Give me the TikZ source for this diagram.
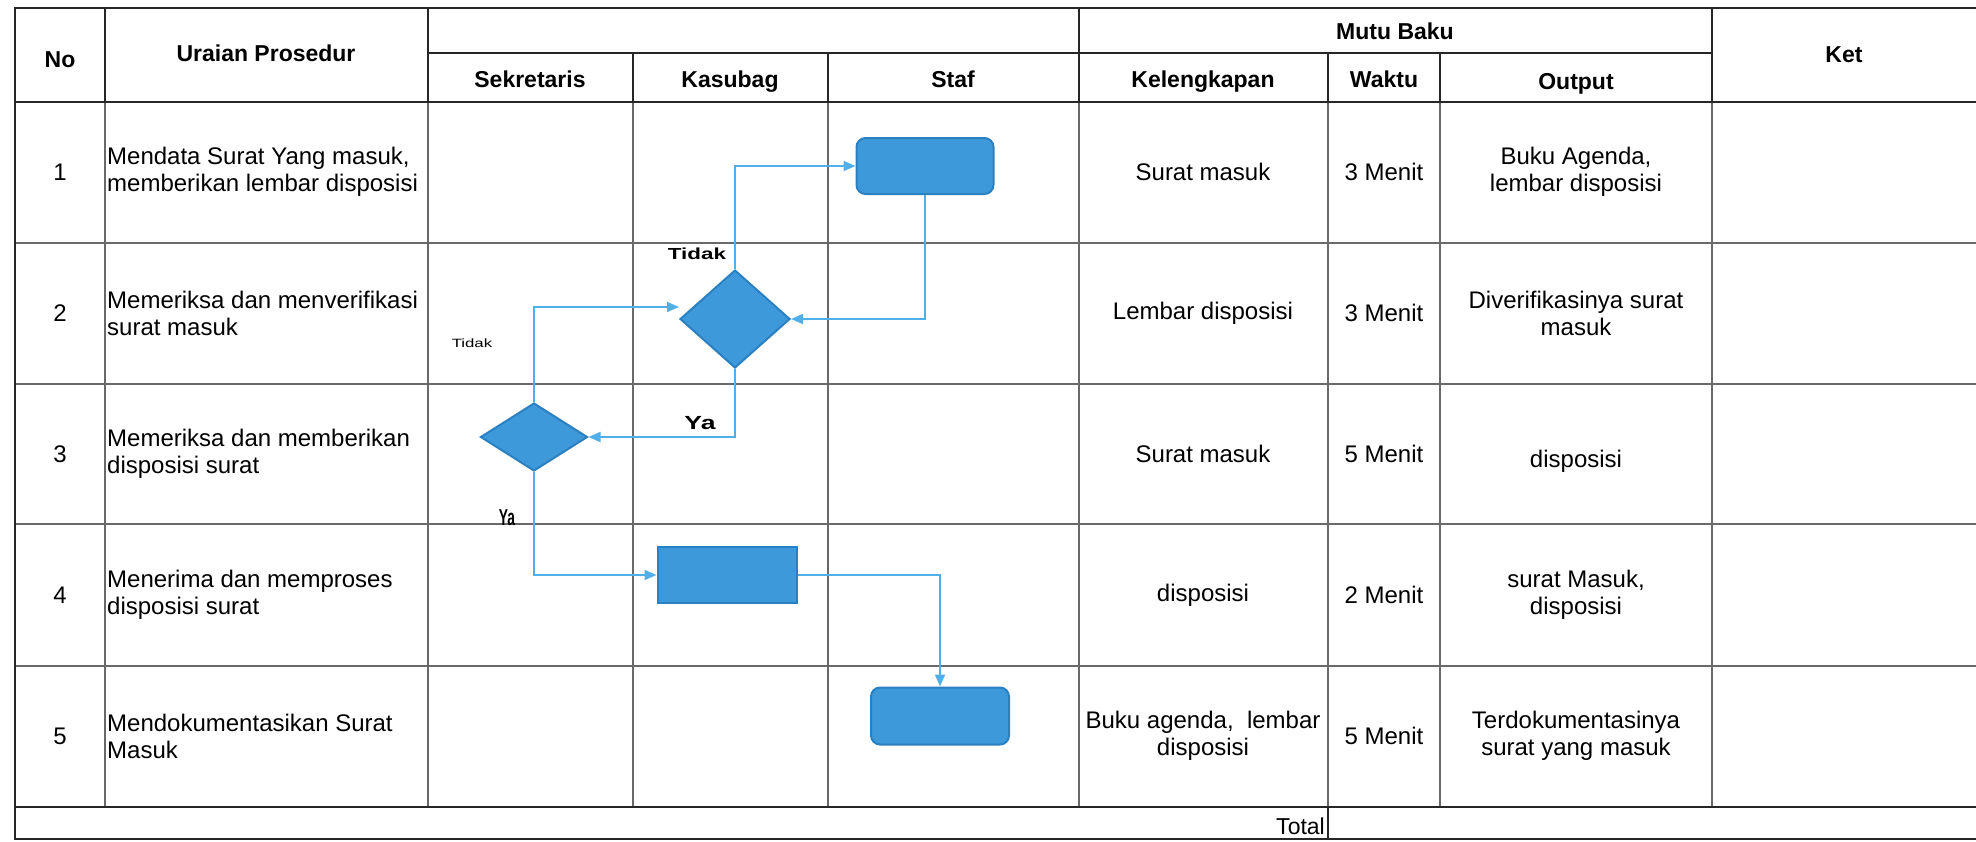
\documentclass[tikz,border=0pt]{standalone}
\usepackage{fontspec}
\setmainfont{Liberation Sans}
\newfontfamily\widefont[FakeStretch=1.4]{Liberation Sans}
\newfontfamily\condfont[FakeStretch=0.6]{Liberation Sans}
\usetikzlibrary{shapes.geometric,arrows.meta,positioning,calc}
\definecolor{shapeblue}{RGB}{62,153,218}
\definecolor{shapeedge}{RGB}{42,128,192}
\definecolor{flowblue}{RGB}{80,175,233}
\definecolor{gridgray}{RGB}{105,105,105}

\begin{document}
\begin{tikzpicture}[x=1pt, y=-1pt,
    thickline/.style={line width=2.6pt, draw=black!85},
    thinline/.style={line width=1.1pt, draw=gridgray},
    head/.style={font=\fontsize{23}{26}\selectfont\bfseries, inner sep=0pt, text height=17pt, text depth=5pt},
    cell/.style={font=\fontsize{24}{27}\selectfont, align=center, inner sep=0pt},
    prosedur/.style={font=\fontsize{24}{27}\selectfont, align=left, anchor=west, inner sep=0pt},
    flowlabel/.style={inner sep=0pt},
    process/.style={rectangle, draw=shapeedge, fill=shapeblue, line width=2pt, minimum width=139pt, minimum height=56pt},
    terminal/.style={process, rounded corners=9pt},
    decision/.style={diamond, draw=shapeedge, fill=shapeblue, line width=2pt, inner sep=0pt},
    arrow/.style={-{Triangle[length=12pt,width=10pt]}, line width=1.8pt, draw=flowblue}
]
    \useasboundingbox (0,0) rectangle (1976,841);

    \draw[thinline] (15,243) -- (1976,243) (15,384) -- (1976,384) (15,524) -- (1976,524) (15,666) -- (1976,666);
    \draw[thinline] (105,102) -- (105,807) (428,102) -- (428,807) (633,102) -- (633,807) (828,102) -- (828,807);
    \draw[thinline] (1079,102) -- (1079,807) (1328,102) -- (1328,807) (1440,102) -- (1440,807) (1712,102) -- (1712,807);

    \draw[thickline] (1976,8) -- (15,8) -- (15,839) -- (1976,839);
    \draw[thickline] (15,102) -- (1976,102) (428,53) -- (1712,53) (15,807) -- (1976,807);
    \draw[thickline] (105,8) -- (105,102) (428,8) -- (428,102) (1079,8) -- (1079,102) (1712,8) -- (1712,102);
    \draw[thickline] (633,53) -- (633,102) (828,53) -- (828,102) (1328,53) -- (1328,102) (1440,53) -- (1440,102);
    \draw[thickline] (1328,807) -- (1328,839);

    \node[head] (hno) at (60,61) {No};
    \node[head] (hur) at (266,55) {Uraian Prosedur};
    \node[head] (hsek) at (530,81) {Sekretaris};
    \node[head] (hkas) at (730,81) {Kasubag};
    \node[head] (hstaf) at (953,81) {Staf};
    \node[head] (hmutu) at (1395,33) {Mutu Baku};
    \node[head] (hkel) at (1203,81) {Kelengkapan};
    \node[head] (hwak) at (1384,81) {Waktu};
    \node[head] (hout) at (1576,83) {Output};
    \node[head] (hket) at (1844,56) {Ket};

    \node[cell] (no1) at (60,172) {1};
    \node[cell] (no2) at (60,313) {2};
    \node[cell] (no3) at (60,454) {3};
    \node[cell] (no4) at (60,595) {4};
    \node[cell] (no5) at (60,736) {5};

    \node[prosedur] (ur1) at (107,172) {Mendata Surat Yang masuk,\\memberikan lembar disposisi};
    \node[prosedur] (ur2) at (107,313) {Memeriksa dan menverifikasi\\surat masuk};
    \node[prosedur] (ur3) at (107,454) {Memeriksa dan memberikan\\disposisi surat};
    \node[prosedur] (ur4) at (107,595) {Menerima dan memproses\\disposisi surat};
    \node[prosedur] (ur5) at (107,736) {Mendokumentasikan Surat\\Masuk};

    \node[cell] (kel1) at (1203,172) {Surat masuk};
    \node[cell] (kel2) at (1203,313) {Lembar disposisi};
    \node[cell] (kel3) at (1203,454) {Surat masuk};
    \node[cell] (kel4) at (1203,595) {disposisi};
    \node[cell] (kel5) at (1203,736) {Buku agenda,~~lembar\\disposisi};

    \node[cell] (wak1) at (1384,172) {3 Menit};
    \node[cell] (wak2) at (1384,313) {3 Menit};
    \node[cell] (wak3) at (1384,454) {5 Menit};
    \node[cell] (wak4) at (1384,595) {2 Menit};
    \node[cell] (wak5) at (1384,736) {5 Menit};

    \node[cell] (out1) at (1576,172) {Buku Agenda,\\lembar disposisi};
    \node[cell] (out2) at (1576,313) {Diverifikasinya surat\\masuk};
    \node[cell] (out3) at (1576,461) {disposisi};
    \node[cell] (out4) at (1576,595) {surat Masuk,\\disposisi};
    \node[cell] (out5) at (1576,736) {Terdokumentasinya\\surat yang masuk};

    \node[cell, anchor=base east, font=\fontsize{23}{26}\selectfont] (total) at (1325,834) {Total};

    \node[terminal, minimum width=137pt] (staf1) at (925,166) {};
    \node[decision, minimum width=110pt, minimum height=98pt] (kas1) at (735,319) {};
    \node[decision, minimum width=107pt, minimum height=68pt] (sek1) at (534,437) {};
    \node[process] (kas2) at (727,575) {};
    \node[terminal, minimum width=138pt, minimum height=57pt] (staf2) at (940,716) {};

    \draw[arrow] (kas1.north) |- (staf1.west);
    \draw[arrow] (staf1.south) |- (kas1.east);
    \draw[arrow] (kas1.south) |- (sek1.east);
    \draw[arrow] (sek1.north) |- ([yshift=12pt]kas1.west);
    \draw[arrow] (sek1.south) |- (kas2.west);
    \draw[arrow] (kas2.east) -| (staf2.north);

    \node[flowlabel, font=\widefont\bfseries\fontsize{16}{18}\selectfont] (tidak1) at (697,254) {Tidak};
    \node[flowlabel, font=\widefont\bfseries\fontsize{19}{21}\selectfont] (ya1) at (700,423) {Ya};
    \node[flowlabel, font=\widefont\fontsize{12}{14}\selectfont] (tidak2) at (472,343) {Tidak};
    \node[flowlabel, font=\condfont\bfseries\fontsize{23}{25}\selectfont] (ya2) at (507,518) {Ya};
\end{tikzpicture}
\end{document}
